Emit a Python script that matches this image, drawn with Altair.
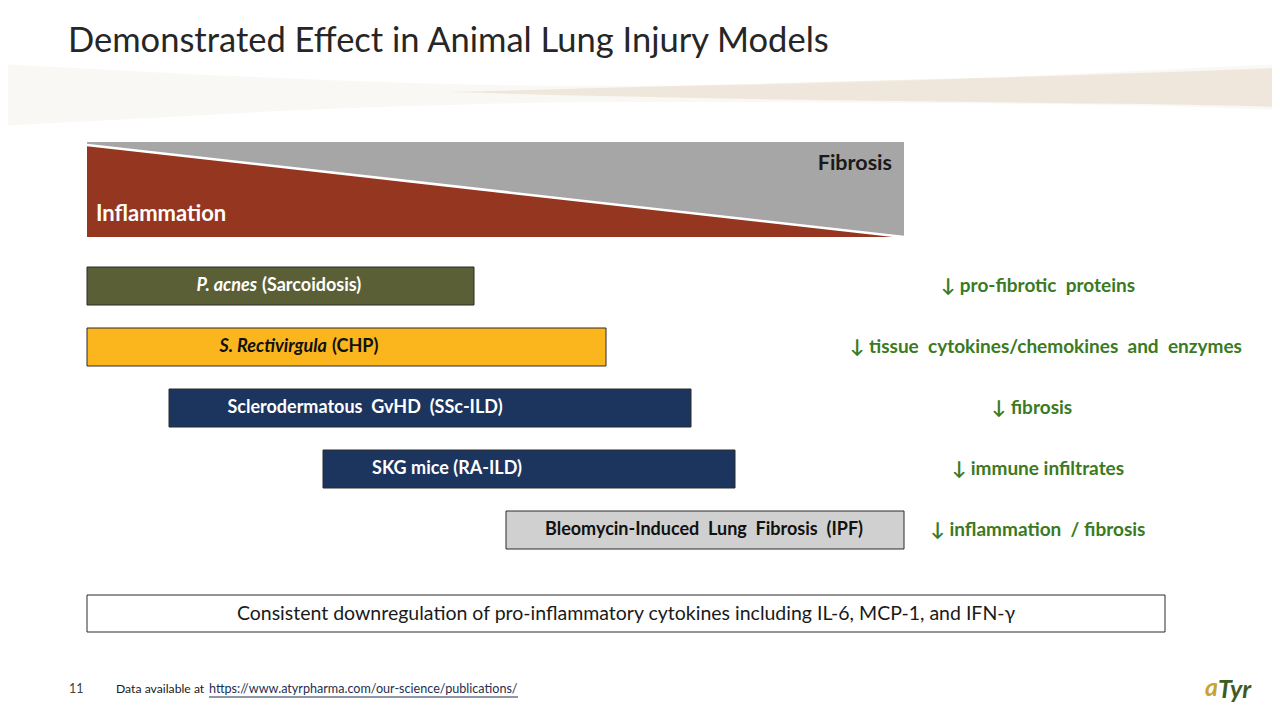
import altair as alt
import pandas as pd

FONT = "Lato"
NB = "\u00a0"

# ---------------- data ----------------
title_text = "Demonstrated Effect in Animal Lung Injury Models"

model_italic = ["P. acnes", "S. Rectivirgula"]
model_regular_tail = ["(Sarcoidosis)", "(CHP)"]
model_plain = [f"Sclerodermatous {NB}GvHD {NB}(SSc-ILD)", "SKG mice (RA-ILD)",
               f"Bleomycin-Induced {NB}Lung {NB}Fibrosis {NB}(IPF)"]
bar_start = [87, 87, 169, 323, 506]
bar_end = [474, 606, 691, 735, 904]
bar_colors = ["#5b5f36", "#fbb51d", "#1c355e", "#1c355e", "#d0d0d0"]
label_colors = ["#ffffff", "#111111", "#ffffff", "#ffffff", "#111111"]
row_center = [286, 347, 408, 469, 530]
label_anchor = [258, 328, 365, 447, 704]

effects = [f"↓ pro-fibrotic {NB}proteins",
           f"↓ tissue {NB}cytokines/chemokines {NB}and {NB}enzymes",
           "↓ fibrosis",
           "↓ immune infiltrates",
           f"↓ inflammation {NB}/ fibrosis"]
effect_center = [1038, 1046, 1032, 1038, 1038]

spectrum_start, spectrum_end = 87, 904
spectrum_top, spectrum_bottom = 142, 237
diag_start_y = 145

summary_text = "Consistent downregulation of pro-inflammatory cytokines including IL-6, MCP-1, and IFN-γ"
footer_page = "11"
footer_note = "Data available at"
footer_link = "https://www.atyrpharma.com/our-science/publications/"

# swoosh decoration (top band)
swoosh_x = [0, 150, 300, 450, 600, 750, 900, 1050, 1200, 1280]
swoosh_top = [64, 72, 79, 84, 86, 85, 81, 75, 68, 64]
swoosh_bot = [126, 118, 110, 105, 102, 102, 103, 104, 107, 110]
swoosh2_x = [450, 600, 750, 900, 1050, 1200, 1280]
swoosh2_top = [92, 88, 84, 80, 76, 71, 68]
swoosh2_bot = [92, 96, 99, 101, 103, 105, 107]

# ---------------- scales ----------------
XS = alt.Scale(domain=[8, 1272], nice=False, zero=False)
YS = alt.Scale(domain=[8, 712], nice=False, zero=False, reverse=True)


def X(f, **k):
    return alt.X(f, type="quantitative", scale=XS, axis=None, **k)


def Y(f, **k):
    return alt.Y(f, type="quantitative", scale=YS, axis=None, **k)


def X2(f):
    return alt.X2(f)


def Y2(f):
    return alt.Y2(f)


def txt(x, y, t, **props):
    return (alt.Chart(pd.DataFrame({"x": [x], "y": [y], "t": [t]}))
            .mark_text(baseline="middle", font=FONT, **props)
            .encode(x=X("x"), y=Y("y"), text="t:N"))


layers = []

# swoosh
sw = pd.DataFrame({"x": swoosh_x, "y": swoosh_top, "y2": swoosh_bot})
layers.append(alt.Chart(sw).mark_area(color="#e6dac6", opacity=0.18, interpolate="monotone")
              .encode(x=X("x"), y=Y("y"), y2=Y2("y2")))
sw2 = pd.DataFrame({"x": swoosh2_x, "y": swoosh2_top, "y2": swoosh2_bot})
layers.append(alt.Chart(sw2).mark_area(color="#c8ab80", opacity=0.22, interpolate="monotone")
              .encode(x=X("x"), y=Y("y"), y2=Y2("y2")))

# title
layers.append(txt(68, 42, title_text, align="left", fontSize=34.5, color="#262626"))

# spectrum: gray background, red triangle, white diagonal
spec = pd.DataFrame({"x": [spectrum_start], "x2": [spectrum_end],
                     "y": [spectrum_top], "y2": [spectrum_bottom]})
layers.append(alt.Chart(spec).mark_rect(color="#a6a6a6")
              .encode(x=X("x"), x2=X2("x2"), y=Y("y"), y2=Y2("y2")))
tri = pd.DataFrame({"x": [spectrum_start, spectrum_end],
                    "y": [diag_start_y, spectrum_bottom],
                    "y2": [spectrum_bottom, spectrum_bottom]})
layers.append(alt.Chart(tri).mark_area(color="#953620")
              .encode(x=X("x"), y=Y("y"), y2=Y2("y2")))
layers.append(alt.Chart(tri).mark_line(color="#ffffff", strokeWidth=2.5)
              .encode(x=X("x"), y=Y("y")))
layers.append(txt(892, 164, "Fibrosis", align="right", fontSize=21.5,
                  fontWeight="bold", color="#1a1a1a"))
layers.append(txt(96, 214, "Inflammation", align="left", fontSize=22,
                  fontWeight="bold", color="#ffffff"))

# model bars
bars = pd.DataFrame({
    "s": bar_start, "e": bar_end,
    "y": [c - 19 for c in row_center], "y2": [c + 19 for c in row_center],
    "fill": bar_colors,
})
layers.append(alt.Chart(bars).mark_rect(stroke="#2a2a2a", strokeWidth=1)
              .encode(x=X("s"), x2=X2("e"), y=Y("y"), y2=Y2("y2"),
                      color=alt.Color("fill:N", scale=None)))

# labels with italic organism names
it = pd.DataFrame({"x": label_anchor[:2], "y": row_center[:2], "t": model_italic,
                   "c": label_colors[:2]})
layers.append(alt.Chart(it).mark_text(align="right", baseline="middle", font=FONT,
                                      fontSize=18, fontWeight="bold", fontStyle="italic", dx=-1)
              .encode(x=X("x"), y=Y("y"), text="t:N", color=alt.Color("c:N", scale=None)))
tail = pd.DataFrame({"x": label_anchor[:2], "y": row_center[:2], "t": model_regular_tail,
                     "c": label_colors[:2]})
layers.append(alt.Chart(tail).mark_text(align="left", baseline="middle", font=FONT,
                                        fontSize=18, fontWeight="bold", dx=4)
              .encode(x=X("x"), y=Y("y"), text="t:N", color=alt.Color("c:N", scale=None)))
plain = pd.DataFrame({"x": label_anchor[2:], "y": row_center[2:], "t": model_plain,
                      "c": label_colors[2:]})
layers.append(alt.Chart(plain).mark_text(align="center", baseline="middle", font=FONT,
                                         fontSize=18, fontWeight="bold")
              .encode(x=X("x"), y=Y("y"), text="t:N", color=alt.Color("c:N", scale=None)))

# effects
eff = pd.DataFrame({"x": effect_center, "y": row_center, "t": effects})
layers.append(alt.Chart(eff).mark_text(align="center", baseline="middle", font=FONT,
                                       fontSize=19, fontWeight="bold", color="#3a7a22")
              .encode(x=X("x"), y=Y("y"), text="t:N"))

# summary box
box = pd.DataFrame({"x": [87], "x2": [1165], "y": [595], "y2": [632]})
layers.append(alt.Chart(box).mark_rect(fill="#ffffff", stroke="#2a2a2a", strokeWidth=1)
              .encode(x=X("x"), x2=X2("x2"), y=Y("y"), y2=Y2("y2")))
layers.append(txt(626, 614, summary_text, align="center", fontSize=19.5, color="#1a1a1a"))

# footer
layers.append(txt(69, 689, footer_page, align="left", fontSize=12.5, color="#404040"))
layers.append(txt(116, 689, footer_note, align="left", fontSize=12.2, color="#1a1a1a"))
layers.append(txt(209, 689, footer_link, align="left", fontSize=12.6, color="#1f2f4f"))
layers.append(alt.Chart(pd.DataFrame({"x": [209], "x2": [518], "y": [697]}))
              .mark_rule(color="#1f2f4f", strokeWidth=1)
              .encode(x=X("x"), x2=X2("x2"), y=Y("y")))

# logo
layers.append(txt(1205, 688, "a", align="left", fontSize=25, fontWeight="bold",
                  fontStyle="italic", color="#c9a42c"))
layers.append(txt(1218, 690, "Tyr", align="left", fontSize=25, fontWeight="bold",
                  fontStyle="italic", color="#3f5b20"))

chart = (alt.layer(*layers)
         .properties(width=1264, height=704, padding=0, autosize="none", background="#ffffff")
         .configure_view(stroke=None))

chart.save("out.html", embed_options={"renderer": "svg", "actions": False})
